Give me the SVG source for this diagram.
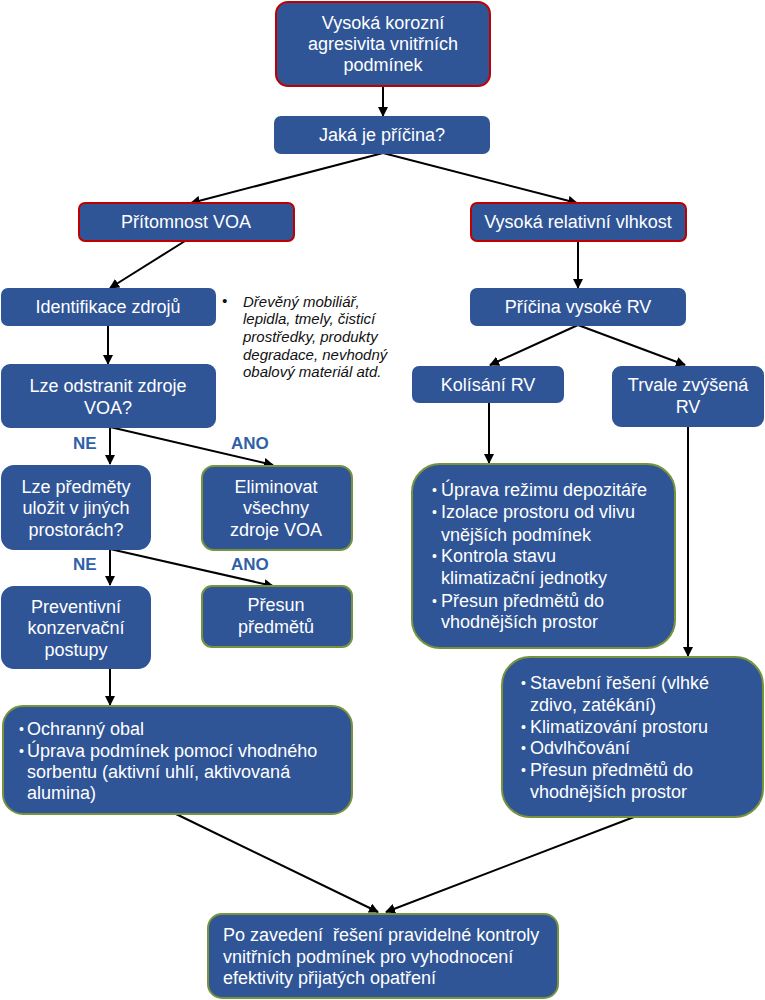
<svg xmlns="http://www.w3.org/2000/svg" width="765" height="1000" viewBox="0 0 765 1000">
<style>
.box{fill:#2F5597;stroke:#2F5597;stroke-width:2}
.red{stroke:#C00000}
.green{stroke:#77933C}
.t{font-family:"Liberation Sans",Arial,sans-serif;font-size:18px;fill:#fff}
.c{text-anchor:middle}
.b{font-family:"Liberation Sans",Arial,sans-serif;font-size:14px;fill:#fff}
.lbl{font-family:"Liberation Sans",Arial,sans-serif;font-size:17px;font-weight:bold;fill:#3060A8}
.it{font-family:"Liberation Sans",Arial,sans-serif;font-size:15px;font-style:italic;fill:#111}
.e{stroke:#000;stroke-width:2;fill:none;marker-end:url(#ah)}
</style>
<defs>
<marker id="ah" viewBox="0 0 10 10" refX="9" refY="5" markerWidth="5" markerHeight="5" orient="auto" markerUnits="strokeWidth">
<path d="M0,0 L10,5 L0,10 z" fill="#000"/>
</marker>
</defs>
<g id="connectors">
<path class="e" d="M383,87 L383,116"/>
<path class="e" d="M383,153 L191,203"/>
<path class="e" d="M383,153 L577,203"/>
<path class="e" d="M185,241 L110,288"/>
<path class="e" d="M108,325 L108,364"/>
<path class="e" d="M578,241 L578,288"/>
<path class="e" d="M578,325 L490,365"/>
<path class="e" d="M578,325 L685,365"/>
<path class="e" d="M489,402 L489,463"/>
<path class="e" d="M688,426 L688,656"/>
<path class="e" d="M110,427 L110,464"/>
<path class="e" d="M110,427 L273,465"/>
<path class="e" d="M110,549 L110,585"/>
<path class="e" d="M110,549 L273,586"/>
<path class="e" d="M110,668 L110,705"/>
<path class="e" d="M176,814 L378,912"/>
<path class="e" d="M634,817 L386,912"/>
</g>
<g id="n1"><rect class="box red" x="276" y="2" width="214" height="84" rx="12"/>
<text class="t c" x="383" y="29">Vysoká korozní</text>
<text class="t c" x="383" y="50">agresivita vnitřních</text>
<text class="t c" x="383" y="71">podmínek</text></g>
<g id="n2"><rect class="box" x="275" y="117" width="214" height="36" rx="6"/>
<text class="t c" x="382" y="141">Jaká je příčina?</text></g>
<g id="n3"><rect class="box red" x="79" y="203" width="215" height="38" rx="6"/>
<text class="t c" x="186" y="228">Přítomnost VOA</text></g>
<g id="n4"><rect class="box red" x="471" y="203" width="215" height="38" rx="6"/>
<text class="t c" x="578" y="228">Vysoká relativní vlhkost</text></g>
<g id="n5"><rect class="box" x="2" y="289" width="213" height="36" rx="6"/>
<text class="t c" x="108" y="313">Identifikace zdrojů</text></g>
<g id="note">
<text class="it" x="222" y="306" font-style="normal">•</text>
<text class="it" x="243" y="307">Dřevěný mobiliář,</text>
<text class="it" x="243" y="324">lepidla, tmely, čisticí</text>
<text class="it" x="243" y="342">prostředky, produkty</text>
<text class="it" x="243" y="360">degradace, nevhodný</text>
<text class="it" x="243" y="377">obalový materiál atd.</text></g>
<g id="n6"><rect class="box" x="471" y="289" width="214" height="36" rx="6"/>
<text class="t c" x="578" y="313">Příčina vysoké RV</text></g>
<g id="n7"><rect class="box" x="2" y="365" width="213" height="62" rx="8"/>
<text class="t c" x="108" y="392">Lze odstranit zdroje</text>
<text class="t c" x="108" y="414">VOA?</text></g>
<g id="n8"><rect class="box" x="413" y="367" width="150" height="35" rx="6"/>
<text class="t c" x="488" y="391">Kolísání RV</text></g>
<g id="n9"><rect class="box" x="613" y="367" width="150" height="59" rx="8"/>
<text class="t c" x="688" y="391">Trvale zvýšená</text>
<text class="t c" x="688" y="413">RV</text></g>
<g id="labels">
<text class="lbl" x="73" y="449">NE</text>
<text class="lbl" x="231" y="449">ANO</text>
<text class="lbl" x="73" y="570">NE</text>
<text class="lbl" x="231" y="570">ANO</text></g>
<g id="n10"><rect class="box" x="2" y="466" width="148" height="83" rx="12"/>
<text class="t c" x="76" y="493">Lze předměty</text>
<text class="t c" x="76" y="514">uložit v jiných</text>
<text class="t c" x="76" y="536">prostorách?</text></g>
<g id="n11"><rect class="box green" x="202" y="466" width="150" height="84" rx="12"/>
<text class="t c" x="276" y="493">Eliminovat</text>
<text class="t c" x="276" y="514">všechny</text>
<text class="t c" x="276" y="536">zdroje VOA</text></g>
<g id="n12"><rect class="box green" x="412" y="464" width="263" height="184" rx="28"/>
<text class="b" x="432" y="495">•</text><text class="t" x="441" y="496">Úprava režimu depozitáře</text>
<text class="b" x="432" y="517">•</text><text class="t" x="441" y="518">Izolace prostoru od vlivu</text>
<text class="t" x="441" y="541">vnějších podmínek</text>
<text class="b" x="432" y="561">•</text><text class="t" x="441" y="562">Kontrola stavu</text>
<text class="t" x="441" y="584">klimatizační jednotky</text>
<text class="b" x="432" y="606">•</text><text class="t" x="441" y="607">Přesun předmětů do</text>
<text class="t" x="441" y="628">vhodnějších prostor</text></g>
<g id="n13"><rect class="box" x="2" y="587" width="148" height="81" rx="12"/>
<text class="t c" x="76" y="613">Preventivní</text>
<text class="t c" x="76" y="634">konzervační</text>
<text class="t c" x="76" y="656">postupy</text></g>
<g id="n14"><rect class="box green" x="202" y="586" width="150" height="61" rx="10"/>
<text class="t c" x="276" y="611">Přesun</text>
<text class="t c" x="276" y="633">předmětů</text></g>
<g id="n15"><rect class="box green" x="502" y="657" width="261" height="160" rx="28"/>
<text class="b" x="521" y="688">•</text><text class="t" x="530" y="689">Stavební řešení (vlhké</text>
<text class="t" x="530" y="711">zdivo, zatékání)</text>
<text class="b" x="521" y="732">•</text><text class="t" x="530" y="733">Klimatizování prostoru</text>
<text class="b" x="521" y="753">•</text><text class="t" x="530" y="754">Odvlhčování</text>
<text class="b" x="521" y="775">•</text><text class="t" x="530" y="776">Přesun předmětů do</text>
<text class="t" x="530" y="798">vhodnějších prostor</text></g>
<g id="n16"><rect class="box green" x="3" y="706" width="349" height="108" rx="20"/>
<text class="b" x="19" y="734">•</text><text class="t" x="27" y="735">Ochranný obal</text>
<text class="b" x="19" y="756">•</text><text class="t" x="27" y="757">Úprava podmínek pomocí vhodného</text>
<text class="t" x="27" y="778">sorbentu (aktivní uhlí, aktivovaná</text>
<text class="t" x="27" y="799">alumina)</text></g>
<g id="n17"><rect class="box green" x="208" y="914" width="350" height="84" rx="14"/>
<text class="t" x="223" y="941" xml:space="preserve">Po zavedení  řešení pravidelné kontroly</text>
<text class="t" x="223" y="963">vnitřních podmínek pro vyhodnocení</text>
<text class="t" x="223" y="984">efektivity přijatých opatření</text></g>
</svg>
